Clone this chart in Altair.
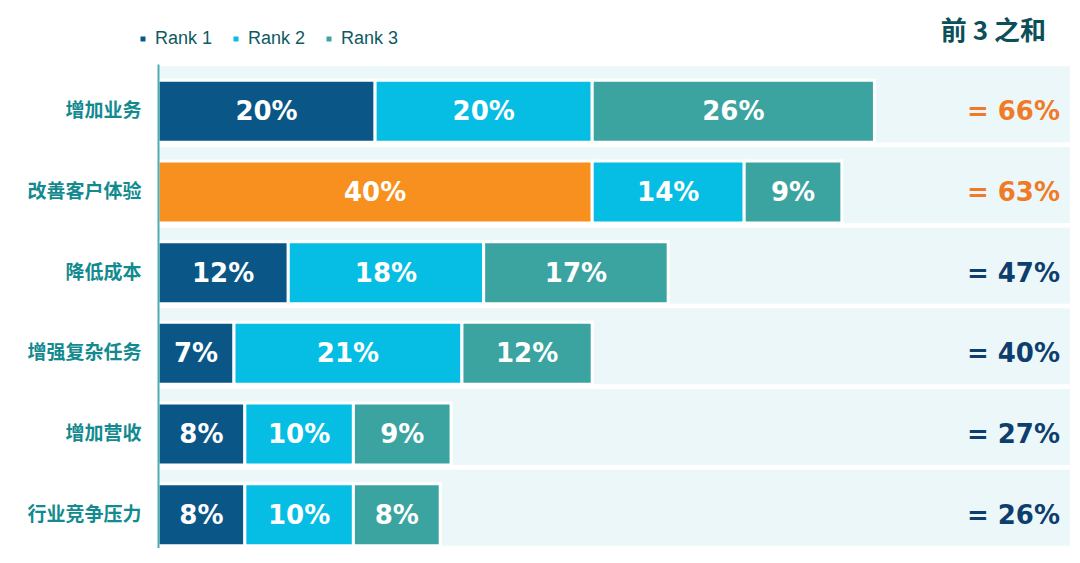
import altair as alt
import pandas as pd

categories = ["增加业务", "改善客户体验", "降低成本", "增强复杂任务", "增加营收", "行业竞争压力"]
rank1 = [20, 40, 12, 7, 8, 8]
rank2 = [20, 14, 18, 21, 10, 10]
rank3 = [26, 9, 17, 12, 9, 8]
ranks = ["Rank 1", "Rank 2", "Rank 3"]
rank_colors = ["#0a5687", "#06bde3", "#3ba4a1"]
highlight_category = "改善客户体验"
highlight_color = "#f7901e"
total_hi_color = "#f07b27"
total_lo_color = "#0d3e6d"
title_text = "前 3 之和"

rows = []
for c, a, b, d in zip(categories, rank1, rank2, rank3):
    for i, (r, v) in enumerate(zip(ranks, [a, b, d])):
        rows.append({"cat": c, "rank": r, "ri": i, "value": v})
df = pd.DataFrame(rows)

W, H = 914, 484
XMAX = 84.2

y = alt.Y(
    "cat:N",
    sort=categories,
    scale=alt.Scale(paddingInner=0, paddingOuter=0),
    axis=alt.Axis(
        title=None, ticks=False, domainColor="#4fadb1", domainWidth=2,
        labelFont="Noto Sans CJK SC", labelFontWeight="bold", labelFontSize=19,
        labelColor="#128a8f", labelPadding=17, labelOffset=7, zindex=1,
    ),
)

bg = alt.Chart(pd.DataFrame({"cat": categories})).mark_bar(
    size=76, color="#ecf7f9"
).encode(y=y, x=alt.value(0), x2=alt.value(W - 2))

base = alt.Chart(df).transform_stack(
    stack="value", groupby=["cat"], as_=["x0", "x1"], sort=[alt.SortField("ri")]
)

xs = alt.Scale(domain=[0, XMAX], nice=False)

bars = base.mark_bar(size=62, yOffset=7, stroke="white", strokeWidth=3).encode(
    y=y,
    x=alt.X("x0:Q", scale=xs, axis=None),
    x2="x1:Q",
    color=alt.condition(
        f"datum.cat == '{highlight_category}' && datum.ri == 0",
        alt.value(highlight_color),
        alt.Color(
            "rank:N",
            scale=alt.Scale(domain=ranks, range=rank_colors),
            legend=alt.Legend(
                title=None, orient="none", legendX=-24, legendY=-34,
                direction="horizontal", symbolType="square", symbolSize=25,
                symbolStrokeWidth=0, labelFont="Liberation Sans", labelFontSize=18,
                labelColor="#0d5a63", labelOffset=3, columnPadding=14,
            ),
        ),
    ),
)

labels = base.transform_calculate(
    xm="(datum.x0 + datum.x1) / 2", lab="datum.value + '%'"
).mark_text(
    font="DejaVu Sans", fontWeight="bold", fontSize=26, color="white",
    yOffset=8, baseline="middle",
).encode(y=y, x=alt.X("xm:Q", scale=xs, axis=None), text="lab:N")

totals = alt.Chart(df).transform_aggregate(
    total="sum(value)", groupby=["cat"]
).transform_calculate(lab="'= ' + datum.total + '%'").mark_text(
    font="DejaVu Sans", fontWeight="bold", fontSize=26, align="right",
    baseline="middle", yOffset=8,
).encode(
    y=y,
    x=alt.value(902),
    text="lab:N",
    color=alt.condition("datum.total >= 60", alt.value(total_hi_color), alt.value(total_lo_color)),
)

chart = alt.layer(bg, bars, labels, totals).properties(
    width=W,
    height=H,
    autosize=alt.AutoSizeParams(type="none"),
    padding={"left": 150, "top": 56, "right": 0, "bottom": 0},
    background="white",
    title=alt.TitleParams(
        title_text, anchor="end", frame="group", font="Noto Sans CJK SC",
        fontSize=26, fontWeight="bold", color="#0c4f58", dx=-26, offset=-15,
    ),
).configure_view(stroke=None)

chart.save("out.html", embed_options={"renderer": "svg", "actions": False})
